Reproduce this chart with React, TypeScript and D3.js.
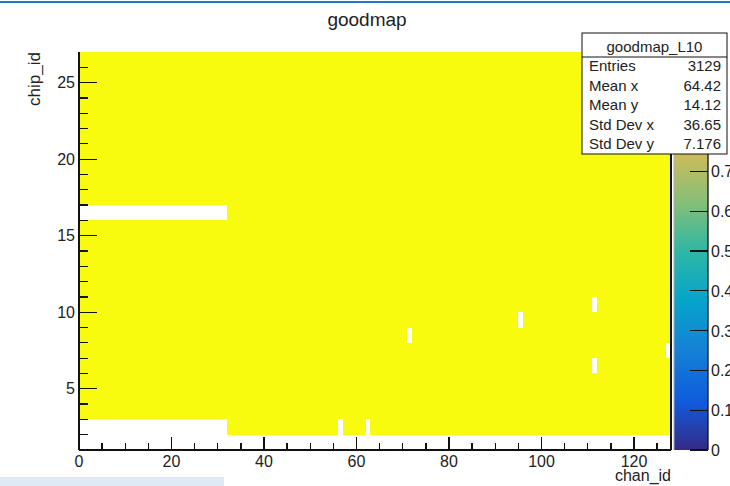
import React from 'react';
import * as d3 from 'd3';

// ---- data ----
const chanDomain = [0, 128];
const chipDomain = [1, 27];
const firstHitChip = 2;
const lastHitChip = 26;
const binValue = 1;
// rows partly empty: [chip, firstChan, lastChan]
const deadRowSegments: [number, number, number][] = [
  [2, 0, 31],
  [16, 0, 31],
];
// single empty bins: [chan, chip]
const deadBins: [number, number][] = [
  [56, 2],
  [62, 2],
  [71, 8],
  [95, 9],
  [111, 10],
  [111, 6],
  [127, 7],
];
const xMajorTicks = [0, 20, 40, 60, 80, 100, 120];
const yMajorTicks = [5, 10, 15, 20, 25];
const zTicks = [0, 0.1, 0.2, 0.3, 0.4, 0.5, 0.6, 0.7];
const zTickLabels = ['0', '0.1', '0.2', '0.3', '0.4', '0.5', '0.6', '0.7'];
const statsTitle = 'goodmap_L10';
const statsLabels = ['Entries', 'Mean x', 'Mean y', 'Std Dev x', 'Std Dev y'];
const statsValues = ['3129', '64.42', '14.12', '36.65', '7.176'];
// ROOT kBird palette
const birdStops = [0.0, 0.125, 0.25, 0.375, 0.5, 0.625, 0.75, 0.875, 1.0];
const birdR = [0.2082, 0.0592, 0.078, 0.0232, 0.1802, 0.5301, 0.8186, 0.9956, 0.9764];
const birdG = [0.1664, 0.3599, 0.5041, 0.6419, 0.7178, 0.7492, 0.7328, 0.7862, 0.9832];
const birdB = [0.5293, 0.8684, 0.8385, 0.7914, 0.6425, 0.4662, 0.3499, 0.1968, 0.0539];

const FONT = '"Liberation Sans", Arial, Helvetica, sans-serif';
const TXT = '#222';

export default function App() {
  const W = 730;
  const H = 486;
  const x = d3.scaleLinear().domain(chanDomain).range([79, 671]);
  const y = d3.scaleLinear().domain(chipDomain).range([450, 52]);
  const z = d3.scaleLinear().domain([0, 1]).range([450, 52]);

  const birdColors = birdStops.map((_, i) =>
    d3.rgb(birdR[i] * 255, birdG[i] * 255, birdB[i] * 255).formatHex()
  );
  const color = d3.scaleLinear<string>().domain(birdStops).range(birdColors);

  const dead = new Set<string>();
  deadRowSegments.forEach(([chip, a, b]) => {
    d3.range(a, b + 1).forEach((c) => dead.add(`${c}_${chip}`));
  });
  deadBins.forEach(([c, chip]) => dead.add(`${c}_${chip}`));

  const cells: { c: number; k: number; v: number }[] = [];
  d3.range(firstHitChip, lastHitChip + 1).forEach((k) => {
    d3.range(chanDomain[0], chanDomain[1]).forEach((c) => {
      if (!dead.has(`${c}_${k}`)) cells.push({ c, k, v: binValue });
    });
  });

  const xMinor = d3.range(0, 129, 5).filter((v) => !xMajorTicks.includes(v));
  const yMinor = d3.range(2, 27, 1).filter((v) => !yMajorTicks.includes(v));

  const palX = 674;
  const palW = 34;

  return (
    <svg
      width={W}
      height={H}
      style={{ position: 'absolute', left: 0, top: 0, background: '#fff' }}
      fontFamily={FONT}
    >
      <defs>
        <linearGradient id="bird" x1="0" y1="1" x2="0" y2="0">
          {birdStops.map((s, i) => (
            <stop key={i} offset={s} stopColor={birdColors[i]} />
          ))}
        </linearGradient>
      </defs>
      <rect x={0} y={0} width={W} height={H} fill="#fff" />
      <rect x={0} y={1} width={W} height={2} fill="#1f77c9" />
      <rect x={0} y={477} width={224} height={9} fill="#dfe9f6" />

      {/* title */}
      <text x={367} y={26} textAnchor="middle" fontSize={19} fill={TXT}>
        goodmap
      </text>

      {/* cells */}
      <g shapeRendering="crispEdges">
        {cells.map((d, i) => (
          <rect
            key={i}
            x={x(d.c)}
            y={y(d.k + 1)}
            width={x(d.c + 1) - x(d.c)}
            height={y(d.k) - y(d.k + 1)}
            fill={color(d.v)}
          />
        ))}
      </g>

      {/* frame / axes */}
      <g stroke="#111" strokeWidth={1.3} shapeRendering="crispEdges">
        <line x1={x(0)} x2={x(0)} y1={y(27)} y2={y(1)} />
        <line x1={x(0)} x2={x(128)} y1={y(1)} y2={y(1)} />
        <line x1={x(128)} x2={x(128)} y1={y(27)} y2={y(1)} />
        {xMajorTicks.map((t) => (
          <line key={'xM' + t} x1={x(t)} x2={x(t)} y1={y(1)} y2={y(1) - 13} />
        ))}
        {xMinor.map((t) => (
          <line key={'xm' + t} x1={x(t)} x2={x(t)} y1={y(1)} y2={y(1) - 7} />
        ))}
        {yMajorTicks.map((t) => (
          <line key={'yM' + t} x1={x(0)} x2={x(0) + 18} y1={y(t)} y2={y(t)} />
        ))}
        {yMinor.map((t) => (
          <line key={'ym' + t} x1={x(0)} x2={x(0) + 9} y1={y(t)} y2={y(t)} />
        ))}
      </g>
      <g fontSize={16} fill={TXT}>
        {xMajorTicks.map((t) => (
          <text key={'xl' + t} x={x(t)} y={467} textAnchor="middle">
            {t}
          </text>
        ))}
        {yMajorTicks.map((t) => (
          <text key={'yl' + t} x={75} y={y(t) + 5.5} textAnchor="end">
            {t}
          </text>
        ))}
      </g>
      <text x={x(128)} y={481} textAnchor="end" fontSize={16} fill={TXT}>
        chan_id
      </text>
      <text
        transform={`translate(40,${y(27)}) rotate(-90)`}
        textAnchor="end"
        fontSize={17}
        fill={TXT}
      >
        chip_id
      </text>

      {/* palette */}
      <rect x={palX} y={z(1)} width={palW} height={z(0) - z(1)} fill="url(#bird)" />
      <line x1={palX} x2={palX} y1={z(1)} y2={z(0)} stroke="#aaa" strokeWidth={1} />
      <line x1={palX + palW} x2={palX + palW} y1={z(1)} y2={z(0)} stroke="#111" strokeWidth={1.3} />
      <g stroke="#111" strokeWidth={1.3} shapeRendering="crispEdges">
        {zTicks.map((t) => (
          <line key={'z' + t} x1={palX + palW - 18} x2={palX + palW} y1={z(t)} y2={z(t)} />
        ))}
      </g>
      <g fontSize={16} fill={TXT}>
        {zTicks.map((t, i) => (
          <text key={'zl' + t} x={palX + palW + 3} y={z(t) + 6}>
            {zTickLabels[i]}
          </text>
        ))}
      </g>

      {/* stats box */}
      <g>
        <rect x={582} y={33} width={145} height={121} fill="#fff" stroke="#111" strokeWidth={1} />
        <line x1={582} x2={727} y1={57} y2={57} stroke="#111" strokeWidth={1} />
        <text x={654.5} y={52} textAnchor="middle" fontSize={15} fill={TXT}>
          {statsTitle}
        </text>
        {statsLabels.map((l, i) => (
          <g key={l}>
            <text x={589} y={71 + i * 19.5} fontSize={15} fill={TXT}>
              {l}
            </text>
            <text x={721} y={71 + i * 19.5} fontSize={15} textAnchor="end" fill={TXT}>
              {statsValues[i]}
            </text>
          </g>
        ))}
      </g>
    </svg>
  );
}
